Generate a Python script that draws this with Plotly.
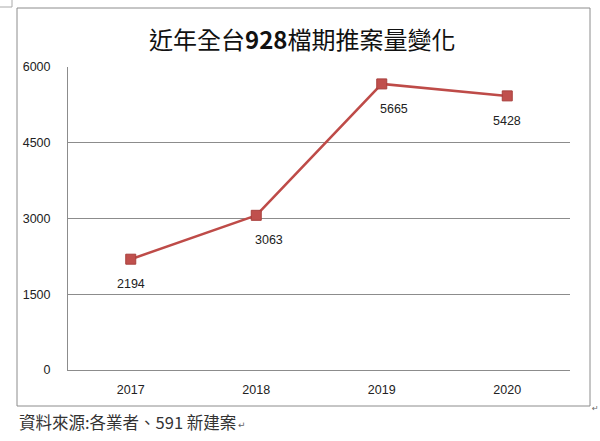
import plotly.graph_objects as go

years = ["2017", "2018", "2019", "2020"]
counts = [2194, 3063, 5665, 5428]
label_dx = [0, 13, 12, 0]
y_ticks = [0, 1500, 3000, 4500, 6000]

title_text = "近年全台<b>928</b>檔期推案量變化"
source_text = "資料來源:各業者、591 新建案"

W, H = 600, 441
L, R, T, B = 68, 30, 67, 71
pw, ph = W - L - R, H - T - B


def px_x(px):
    return (px - L) / pw


def px_y(py):
    return (H - B - py) / ph


fig = go.Figure()
fig.add_trace(go.Scatter(
    x=list(range(len(years))), y=counts, mode="lines+markers",
    line=dict(color="#BE4B48", width=2.5),
    marker=dict(symbol="square", size=10, color="#C0504D",
                line=dict(color="#A8403D", width=1)),
    hoverinfo="y", showlegend=False,
))

for i, (yv, dx) in enumerate(zip(counts, label_dx)):
    fig.add_annotation(x=i, y=yv, text=str(yv), showarrow=False,
                       xshift=dx, yshift=-25,
                       font=dict(family="Liberation Sans", size=12.5, color="#222"))

fig.add_annotation(xref="paper", yref="paper", x=px_x(302), y=px_y(38),
                   text=title_text, showarrow=False, xanchor="center", yanchor="middle",
                   font=dict(family="Noto Sans CJK TC", size=24, color="#111"))
fig.add_annotation(xref="paper", yref="paper", x=px_x(17), y=px_y(422),
                   text=source_text, showarrow=False, xanchor="left", yanchor="middle",
                   font=dict(family="Noto Sans CJK TC", size=16.5, color="#333"))
fig.add_annotation(xref="paper", yref="paper", x=px_x(236), y=px_y(425),
                   text="↵", showarrow=False, xanchor="left", yanchor="middle",
                   font=dict(family="DejaVu Sans", size=9, color="#666"))
fig.add_annotation(xref="paper", yref="paper", x=px_x(590), y=px_y(408),
                   text="↵", showarrow=False, xanchor="left", yanchor="middle",
                   font=dict(family="DejaVu Sans", size=8, color="#666"))

fig.add_shape(type="rect", xref="paper", yref="paper",
              x0=px_x(17), x1=px_x(590), y0=px_y(406), y1=px_y(8),
              line=dict(color="#8C8C8C", width=1), fillcolor="rgba(0,0,0,0)", layer="below")
fig.add_shape(type="path", xref="paper", yref="paper",
              path=f"M {px_x(0)},{px_y(7)} L {px_x(12)},{px_y(7)} L {px_x(12)},{px_y(0)}",
              line=dict(color="#AAAAAA", width=1))

fig.update_layout(
    width=W, height=H,
    margin=dict(l=L, r=R, t=T, b=B),
    paper_bgcolor="white", plot_bgcolor="white",
    xaxis=dict(range=[-0.5, 3.5], tickvals=list(range(len(years))), ticktext=years,
               showgrid=False, zeroline=False,
               showline=True, linecolor="#8C8C8C", linewidth=1,
               ticks="", ticklabelstandoff=8,
               tickfont=dict(family="Liberation Sans", size=12.5, color="#222")),
    yaxis=dict(range=[0, 6000], tickvals=y_ticks, showgrid=True,
               gridcolor="#8C8C8C", gridwidth=1, zeroline=False,
               showline=True, linecolor="#8C8C8C", linewidth=1,
               ticks="", ticklabelstandoff=14,
               tickfont=dict(family="Liberation Sans", size=12.5, color="#222")),
)

fig.write_html("out.html", config={"displayModeBar": False},
               post_script="document.body.style.margin='0';")
